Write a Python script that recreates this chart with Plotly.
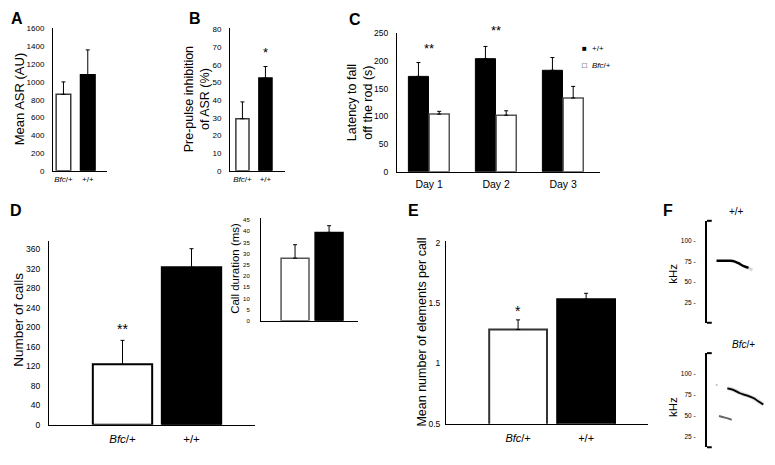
import plotly.graph_objects as go

PAGE_W, PAGE_H = 775, 465
OFF = 8  # default body margin of the html page
W, H = PAGE_W - OFF, PAGE_H - OFF
FONT = "Liberation Sans, Arial, sans-serif"

# ---------------- data ----------------
genotypes = ["Bfc/+", "+/+"]
genotype_text = ["<i>Bfc</i>/+", "+/+"]
bar_colors = ["white", "black"]
bar_lines = ["#3a3a3a", "black"]

asr_mean = [860, 1080]
asr_err = [140, 280]

ppi_mean = [29.5, 52.5]
ppi_err = [9.5, 6.5]

days = ["Day 1", "Day 2", "Day 3"]
rod_wt = [172, 204, 183]
rod_wt_err = [25, 22, 23]
rod_bfc = [104, 102, 133]
rod_bfc_err = [5, 8, 21]

calls_mean = [124, 323]
calls_err = [49, 38]

dur_mean = [28, 39.5]
dur_err = [6, 3]

elem_mean = [1.28, 1.53]
elem_err = [0.08, 0.05]

# spectrogram traces (time in arbitrary units, freq in kHz)
wt_t = [14, 34, 41, 48.5, 54, 61]
wt_f = [76, 76, 75, 72, 69.4, 67.5]
wt_tail_t = [55, 61, 67]
wt_tail_f = [69, 67, 64.5]
bfc_t1 = [29.9, 38.7, 48.5, 58.4, 68.1, 75.4, 82.8]
bfc_f1 = [82.8, 80.9, 76.9, 74.2, 71.1, 67.2, 63.3]
bfc_t2 = [17.6, 26.5, 36.3]
bfc_f2 = [49.6, 47.6, 45]
bfc_dot_t = [13.5, 15]
bfc_dot_f = [86, 87.5]
khz_ticks = [25, 50, 75, 100]
khz_text = [f"{v} -" for v in khz_ticks]


def px_x(a, b):
    return [(a - OFF) / W, (b - OFF) / W]


def px_y(top, bottom):
    return [1 - (bottom - OFF) / H, 1 - (top - OFF) / H]


fig = go.Figure()


def bars(x, y, err, xa, ya, width, colors=bar_colors, lines=bar_lines, lw=1.5):
    fig.add_trace(go.Bar(
        x=x, y=y, width=width, xaxis=xa, yaxis=ya,
        marker=dict(color=colors, line=dict(color=lines, width=lw)),
        error_y=dict(type="data", symmetric=False, array=err, arrayminus=[0] * len(err),
                     color="black", thickness=1, width=2),
        showlegend=False,
    ))


# A
bars(genotypes, asr_mean, asr_err, "x", "y", 0.6)
# B
bars(genotypes, ppi_mean, ppi_err, "x2", "y2", 0.57)
# C
fig.add_trace(go.Bar(x=days, y=rod_wt, xaxis="x3", yaxis="y3", width=0.3, offset=-0.31,
                     marker=dict(color="black", line=dict(color="black", width=1)),
                     error_y=dict(type="data", symmetric=False, array=rod_wt_err, arrayminus=[0, 0, 0],
                                  color="black", thickness=1, width=2), showlegend=False))
fig.add_trace(go.Bar(x=days, y=rod_bfc, xaxis="x3", yaxis="y3", width=0.3, offset=0.0,
                     marker=dict(color="white", line=dict(color="#555", width=1.5)),
                     error_y=dict(type="data", symmetric=False, array=rod_bfc_err, arrayminus=[0, 0, 0],
                                  color="black", thickness=1, width=2), showlegend=False))
# D
bars(genotypes, calls_mean, calls_err, "x4", "y4", 0.86, lines=["black", "black"], lw=2)
# D inset
bars(genotypes, dur_mean, dur_err, "x5", "y5", 0.82, lines=["#555", "black"], lw=1.5)
# E
bars(genotypes, elem_mean, elem_err, "x6", "y6", 0.85, lines=["#333", "black"], lw=2)

# F spectrograms
fig.add_trace(go.Scatter(x=wt_tail_t, y=wt_tail_f, xaxis="x7", yaxis="y7", mode="lines",
                         line=dict(color="rgba(0,0,0,0.15)", width=3, shape="spline"),
                         showlegend=False, hoverinfo="skip"))
fig.add_trace(go.Scatter(x=wt_t, y=wt_f, xaxis="x7", yaxis="y7", mode="lines",
                         line=dict(color="black", width=2.5, shape="spline"), showlegend=False))
fig.add_trace(go.Scatter(x=bfc_t1, y=bfc_f1, xaxis="x8", yaxis="y8", mode="lines",
                         line=dict(color="rgba(0,0,0,0.15)", width=4, shape="spline"), showlegend=False))
fig.add_trace(go.Scatter(x=bfc_t1, y=bfc_f1, xaxis="x8", yaxis="y8", mode="lines",
                         line=dict(color="black", width=1.8, shape="spline"), showlegend=False))
fig.add_trace(go.Scatter(x=bfc_t2, y=bfc_f2, xaxis="x8", yaxis="y8", mode="lines",
                         line=dict(color="rgba(0,0,0,0.6)", width=2, shape="spline"), showlegend=False))
fig.add_trace(go.Scatter(x=bfc_dot_t, y=bfc_dot_f, xaxis="x8", yaxis="y8", mode="lines",
                         line=dict(color="rgba(0,0,0,0.25)", width=2), showlegend=False))

axis_common = dict(showline=True, linecolor="black", linewidth=1, showgrid=False, zeroline=False,
                   ticks="", fixedrange=True)


def xax(dom, rng, anchor, tickvals=None, ticktext=None, size=9, showlabels=True, standoff=0):
    d = dict(axis_common, domain=dom, range=rng, anchor=anchor,
             tickfont=dict(family=FONT, size=size, color="black"))
    if tickvals is not None:
        d.update(tickmode="array", tickvals=tickvals, ticktext=ticktext)
    d["showticklabels"] = showlabels
    d["ticklabelstandoff"] = standoff
    return d


def yax(dom, rng, anchor, dtick, size=8, standoff=5, **kw):
    d = dict(axis_common, domain=dom, range=rng, anchor=anchor, dtick=dtick, tick0=0,
             tickfont=dict(family=FONT, size=size, color="black"), ticklabelstandoff=standoff)
    d.update(kw)
    return d


fig.update_layout(
    width=W, height=H, margin=dict(l=0, r=0, t=0, b=0),
    paper_bgcolor="white", plot_bgcolor="rgba(0,0,0,0)",
    font=dict(family=FONT, color="black"),
    barmode="overlay",
    xaxis=xax(px_x(53, 107), [-0.43, 1.79], "y", genotypes, genotype_text, 8, standoff=1),
    yaxis=yax(px_y(24, 170), [0, 1610], "x", 200, 8, standoff=6),
    xaxis2=xax(px_x(230, 285), [-0.54, 1.85], "y2", genotypes, genotype_text, 8, standoff=1),
    yaxis2=yax(px_y(24, 170), [0, 81], "x2", 10, 8, standoff=6),
    xaxis3=xax(px_x(397, 600), [-0.48, 2.55], "y3", days, days, 10.5, standoff=3),
    yaxis3=yax(px_y(29, 171), [0, 251], "x3", 50, 8.5, standoff=6),
    xaxis4=xax(px_x(49, 255), [-1.065, 1.92], "y4", genotypes, genotype_text, 11.5, standoff=3),
    yaxis4=yax(px_y(242, 429), [0, 376], "x4", 40, 8.5, standoff=6),
    xaxis5=xax(px_x(261, 358), [-1.0, 1.85], "y5", genotypes, genotype_text, 8, showlabels=False),
    yaxis5=yax(px_y(218, 323), [0, 46], "x5", 5, 6, standoff=9),
    xaxis6=xax(px_x(446, 648), [-1.06, 1.91], "y6", genotypes, genotype_text, 11, standoff=4),
    yaxis6=yax(px_y(242, 428), [0.5, 2.01], "x6", 0.5, 8.5, standoff=3,
               tickmode="array", tickvals=[0.5, 1, 1.5, 2], ticktext=["0.5", "1", "1.5", "2"]),
    xaxis7=dict(domain=px_x(707, PAGE_W), range=[0, 100], anchor="y7", visible=False, fixedrange=True),
    yaxis7=dict(axis_common, domain=px_y(221, 325), range=[0, 125], anchor="x7", linewidth=2,
                tickmode="array", tickvals=khz_ticks, ticktext=khz_text, ticklabelstandoff=8,
                tickfont=dict(family=FONT, size=6.5, color="black")),
    xaxis8=dict(domain=px_x(707, PAGE_W), range=[0, 100], anchor="y8", visible=False, fixedrange=True),
    yaxis8=dict(axis_common, domain=px_y(356, 452), range=[12, 125], anchor="x8", linewidth=2,
                tickmode="array", tickvals=khz_ticks, ticktext=khz_text, ticklabelstandoff=8,
                tickfont=dict(family=FONT, size=6.5, color="black")),
)

# bracket ends for F axes
for ya, xa in [("y7", "x7"), ("y8", "x8")]:
    for yy in (0, 1):
        fig.add_shape(type="line", xref=f"{xa} domain", yref=f"{ya} domain",
                      x0=0, x1=0.07, y0=yy, y1=yy, line=dict(color="black", width=2))

ann = []


def text(x, y, s, size, angle=0, xanchor="center", yanchor="middle"):
    ann.append(dict(x=(x - OFF) / W, y=1 - (y - OFF) / H, xref="paper", yref="paper", text=s,
                    showarrow=False, textangle=angle, xanchor=xanchor, yanchor=yanchor,
                    font=dict(family=FONT, size=size, color="black")))


# panel letters
for lx, ly, L in [(17, 15, "A"), (195, 15, "B"), (355, 16, "C"), (16, 210, "D"), (414, 210, "E"), (668, 210, "F")]:
    text(lx, ly, f"<b>{L}</b>", 16)

# axis titles
text(19, 97, "Mean ASR (AU)", 13, -90)
text(197, 97, "Pre-pulse inhibition<br>of ASR (%)", 12.5, -90)
text(360, 101, "Latency to fall<br>off the rod (s)", 12.5, -90)
text(19, 322, "Number of calls", 13.5, -90)
text(235, 270, "Call duration (ms)", 11.5, -90)
text(422, 334, "Mean number of elements per call", 12.5, -90)
text(673, 275, "kHz", 11.5, -90)
text(673, 411, "kHz", 11.5, -90)
text(736, 211, "+/+", 10)
text(743, 347, "<i>Bfc</i>/+", 10)

# legend for C
text(580, 45, "■", 8, xanchor="left")
text(590, 45, "+/+", 8, xanchor="left")
text(580, 63, "□", 8, xanchor="left")
text(590, 63, "<i>Bfc</i>/+", 8, xanchor="left")


# significance stars, placed above the error-bar tops (data coordinates)
def star(xa, ya, x, y, s, shift, size=13):
    ann.append(dict(x=x, y=y, xref=xa, yref=ya, text=s, showarrow=False, yanchor="middle",
                    yshift=shift, font=dict(family=FONT, size=size, color="black")))


star("x2", "y2", genotypes[1], ppi_mean[1] + ppi_err[1], "*", 14, 13)
star("x3", "y3", days[0], rod_wt[0] + rod_wt_err[0], "**", 14, 13)
star("x3", "y3", days[1], rod_wt[1] + rod_wt_err[1], "**", 16, 13)
star("x4", "y4", genotypes[0], calls_mean[0] + calls_err[0], "**", 11, 14)
star("x6", "y6", genotypes[0], elem_mean[0] + elem_err[0], "*", 9, 14)

fig.update_layout(annotations=ann)
for tr in fig.data:
    if tr.type == "bar":
        tr.cliponaxis = False

fig.write_html("out.html")
